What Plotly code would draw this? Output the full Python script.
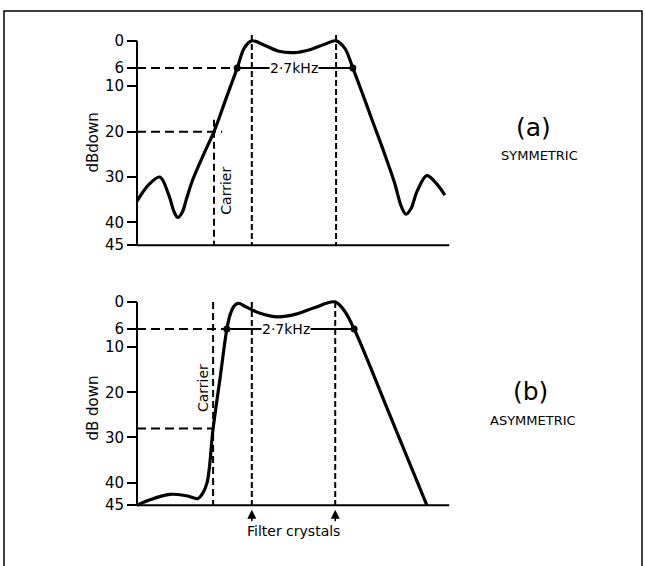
import plotly.graph_objects as go

# ---------------- data (frequency in kHz from axis origin, attenuation in dB down) ----------------
freq_a = [0.00, 0.28, 0.53, 0.74, 0.86, 0.95, 1.05, 1.16, 1.30, 1.55, 1.79, 2.06, 2.33, 2.50, 2.67, 2.95,
          3.30, 3.65, 4.00, 4.35, 4.63, 4.83, 5.02, 5.25, 5.47, 5.75, 5.98, 6.16, 6.26, 6.37, 6.52, 6.74,
          6.95, 7.16]
db_a = [35.3, 31.6, 30.0, 34.0, 37.6, 38.9, 37.8, 34.5, 30.5, 25.0, 20.0, 13.0, 6.0, 1.5, 0.0, 0.9,
        2.3, 2.6, 2.0, 0.8, 0.0, 1.6, 6.0, 11.8, 17.5, 24.7, 31.0, 36.8, 38.2, 37.0, 33.0, 29.7,
        31.3, 34.0]

freq_b = [0.00, 0.30, 0.77, 1.15, 1.42, 1.52, 1.63, 1.77, 1.93, 2.09, 2.16, 2.25, 2.35, 2.56,
          2.86, 3.28, 3.70, 4.12, 4.60, 4.81, 5.05, 5.90, 6.74]
db_b = [45.0, 43.8, 42.6, 42.9, 43.5, 42.5, 40.0, 28.0, 17.0, 6.0, 3.0, 1.0, 0.3, 1.2,
        2.5, 3.3, 2.7, 1.3, 0.0, 1.8, 6.0, 25.5, 45.0]

six_db_a = [2.33, 5.02]
six_db_b = [2.09, 5.05]
crystals_a = [2.67, 4.63]
crystals_b = [2.67, 4.61]
carrier_a = 1.79
carrier_b = 1.77
carrier_level_a = 20
carrier_level_b = 28
y_ticks = [0, 6, 10, 20, 30, 40, 45]
x_end = 7.26
bandwidth_label = "2·7kHz"

# ---------------- layout constants (pixels) ----------------
W, H = 645, 566
X0_PX, PX_PER_KHZ = 137, 43.0
A_Y0, A_PPD = 41, 205 / 45
B_Y0, B_PPD = 303, 204 / 45
XR = [-0.3, 7.6]
YR = [46.5, -2.5]
FONT = "DejaVu Sans"
BLACK = "black"


def xdom():
    return [(X0_PX + XR[0] * PX_PER_KHZ) / W, (X0_PX + XR[1] * PX_PER_KHZ) / W]


def ydom(y0, ppd):
    top = y0 + YR[1] * ppd
    bot = y0 + YR[0] * ppd
    return [1 - bot / H, 1 - top / H]


fig = go.Figure()

for xa, ya, fr, db, six in [("x", "y", freq_a, db_a, six_db_a), ("x2", "y2", freq_b, db_b, six_db_b)]:
    fig.add_trace(go.Scatter(x=fr, y=db, xaxis=xa, yaxis=ya, mode="lines",
                             line=dict(color=BLACK, width=3.2, shape="spline", smoothing=1.0),
                             hoverinfo="skip", showlegend=False))
    fig.add_trace(go.Scatter(x=six, y=[6, 6], xaxis=xa, yaxis=ya, mode="markers",
                             marker=dict(color=BLACK, size=7), cliponaxis=False,
                             hoverinfo="skip", showlegend=False))

shapes = []
HD = "9px,5px"
VD = "6px,3px"


def seg(xr, yr, x0, y0, x1, y1, w=2, dash=None):
    d = dict(type="line", xref=xr, yref=yr, x0=x0, y0=y0, x1=x1, y1=y1,
             line=dict(color=BLACK, width=w))
    if dash:
        d["line"]["dash"] = dash
    shapes.append(d)


# panel (a)
seg("x", "y", 0, 0, 0, 45, 2)
seg("x", "y", 0, 45, x_end, 45, 2)
seg("x", "y", 0, 6, six_db_a[0], 6, 2, HD)
seg("x", "y", six_db_a[0], 6, six_db_a[1], 6, 2)
seg("x", "y", 0, carrier_level_a, carrier_a + 0.19, carrier_level_a, 2, HD)
seg("x", "y", carrier_a, 17.4, carrier_a, 45, 2, "7px,4px")
for c in crystals_a:
    seg("x", "y", c, -1.3, c, 45, 2, VD)

# panel (b)
seg("x2", "y2", 0, 0, 0, 45, 2)
seg("x2", "y2", 0, 45, x_end, 45, 2)
seg("x2", "y2", 0, 6, six_db_b[0], 6, 2, HD)
seg("x2", "y2", six_db_b[0], 6, six_db_b[1], 6, 2)
seg("x2", "y2", 0, carrier_level_b, carrier_b, carrier_level_b, 2, HD)
seg("x2", "y2", carrier_b, 0, carrier_b, 45, 2, "7px,4px")
for c in crystals_b:
    seg("x2", "y2", c, 0, c, 45, 2, VD)

# frame
shapes.append(dict(type="rect", xref="paper", yref="paper", x0=4 / W, x1=642 / W,
                   y0=-0.05, y1=1 - 11 / H, line=dict(color=BLACK, width=1.5)))

ann = []


def txt(x, y, xr, yr, text, size, angle=0, bg=None):
    d = dict(x=x, y=y, xref=xr, yref=yr, text=text, showarrow=False, textangle=angle,
             xanchor="center", yanchor="middle",
             font=dict(size=size, family=FONT, color=BLACK))
    if bg:
        d["bgcolor"] = bg
        d["borderpad"] = 0
    ann.append(d)


txt((six_db_a[0] + six_db_a[1]) / 2 - 0.02, 6, "x", "y", bandwidth_label, 14, bg="white")
txt((six_db_b[0] + six_db_b[1]) / 2 - 0.1, 6, "x2", "y2", bandwidth_label, 14, bg="white")
txt(carrier_a + 0.28, 33, "x", "y", "Carrier", 14, angle=-90)
txt(carrier_b - 0.25, 19, "x2", "y2", "Carrier", 14, angle=-90)
txt(93 / W, 1 - 143 / H, "paper", "paper", "dBdown", 15, angle=-90)
txt(93 / W, 1 - 410 / H, "paper", "paper", "dB down", 15, angle=-90)
txt(533 / W, 1 - 128 / H, "paper", "paper", "(a)", 25)
txt(539 / W, 1 - 156 / H, "paper", "paper", "SYMMETRIC", 13)
txt(530 / W, 1 - 393 / H, "paper", "paper", "(b)", 25)
txt(533 / W, 1 - 422 / H, "paper", "paper", "ASYMMETRIC", 13)
txt(293 / W, 1 - 533 / H, "paper", "paper", "Filter crystals", 14)

for c in crystals_b:
    ann.append(dict(x=c, y=46.0, xref="x2", yref="y2", ax=0, ay=13, text="", showarrow=True,
                    arrowhead=2, arrowsize=1.2, arrowwidth=1.5, arrowcolor=BLACK))

axis_common_x = dict(range=XR, domain=xdom(), showline=False, showgrid=False, zeroline=False,
                     showticklabels=False, ticks="", fixedrange=True)
axis_common_y = dict(range=YR, autorange=False, showline=False, showgrid=False, zeroline=False,
                     tickmode="array", tickvals=y_ticks, ticktext=[str(v) for v in y_ticks],
                     ticks="outside", ticklen=10, tickwidth=2, tickcolor=BLACK,
                     tickfont=dict(size=15, family=FONT, color=BLACK),
                     anchor="free", position=X0_PX / W, side="left", fixedrange=True)

fig.update_layout(
    width=W, height=H, margin=dict(l=0, r=0, t=0, b=0),
    paper_bgcolor="white", plot_bgcolor="rgba(0,0,0,0)",
    showlegend=False,
    xaxis=dict(axis_common_x, anchor="y"),
    xaxis2=dict(axis_common_x, anchor="y2"),
    yaxis=dict(axis_common_y, domain=ydom(A_Y0, A_PPD)),
    yaxis2=dict(axis_common_y, domain=ydom(B_Y0, B_PPD)),
    shapes=shapes, annotations=ann,
)

fig.write_html("out.html", config={"displayModeBar": False},
               post_script="document.body.style.margin='0';document.body.style.overflow='hidden';")
